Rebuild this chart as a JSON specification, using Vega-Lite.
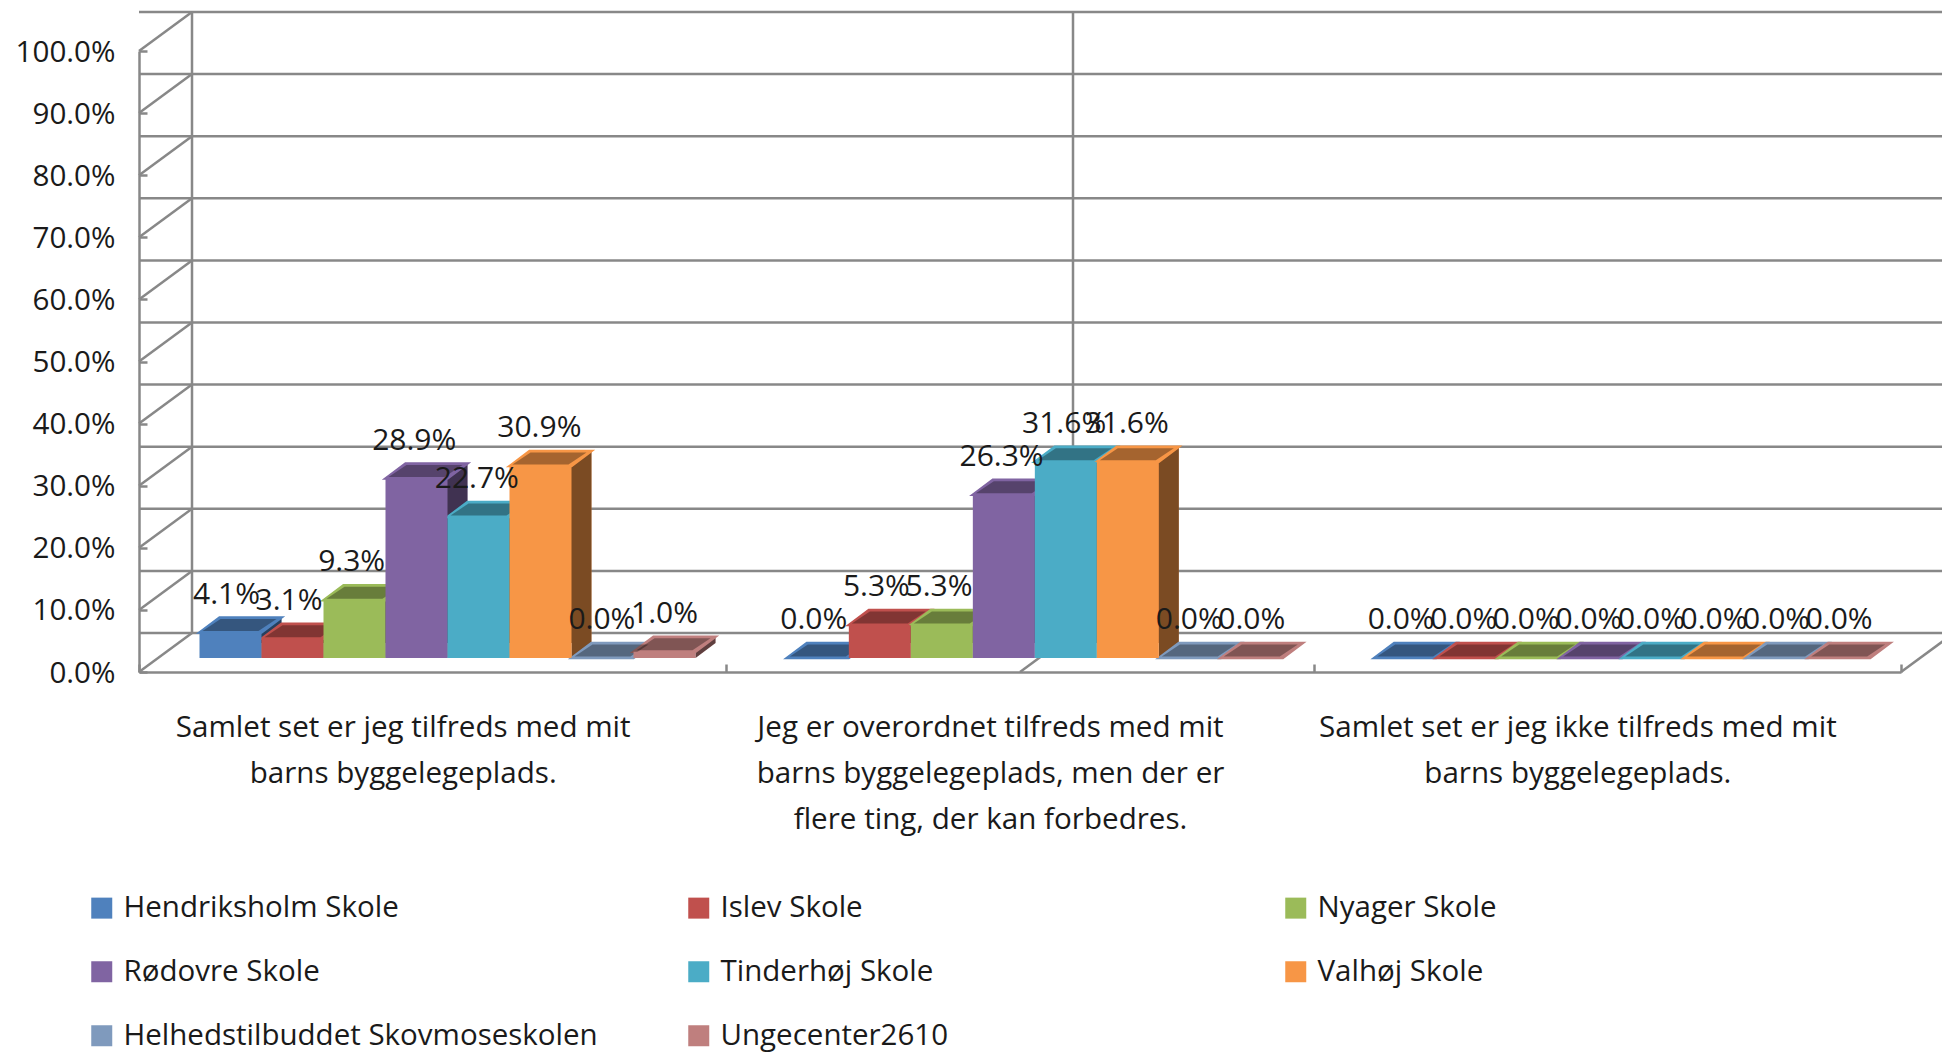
{
"$schema":"https://vega.github.io/schema/vega-lite/v6.json",
"autosize":{"type":"none"},
"padding":{"left":139,"top":51,"right":41,"bottom":380},
"width":1762,"height":621,
"background":"white",
"config":{"view":{"stroke":null},"range":{"category":["#4F81BD","#C0504D","#9BBB59","#8064A2","#4BACC6","#F79646","#7F9ABD","#BF7F7E"]},
"axis":{"labelFont":"Open Sans","labelFontSize":29.6,"labelColor":"#1a1a1a","domainColor":"#888888","domainWidth":2.5,"tickColor":"#888888","tickWidth":2.5,"grid":false,"title":null}},
"datasets":{
"ticks":[{"t":0},{"t":0.1},{"t":0.2},{"t":0.3},{"t":0.4},{"t":0.5},{"t":0.6},{"t":0.7},{"t":0.8},{"t":0.9},{"t":1}],
"rows":[
{"q":"Samlet set er jeg tilfreds med mit\nbarns byggelegeplads.","school":"Hendriksholm Skole","v":0.041},
{"q":"Samlet set er jeg tilfreds med mit\nbarns byggelegeplads.","school":"Islev Skole","v":0.031},
{"q":"Samlet set er jeg tilfreds med mit\nbarns byggelegeplads.","school":"Nyager Skole","v":0.093},
{"q":"Samlet set er jeg tilfreds med mit\nbarns byggelegeplads.","school":"Rødovre Skole","v":0.289},
{"q":"Samlet set er jeg tilfreds med mit\nbarns byggelegeplads.","school":"Tinderhøj Skole","v":0.227},
{"q":"Samlet set er jeg tilfreds med mit\nbarns byggelegeplads.","school":"Valhøj Skole","v":0.309},
{"q":"Samlet set er jeg tilfreds med mit\nbarns byggelegeplads.","school":"Helhedstilbuddet Skovmoseskolen","v":0},
{"q":"Samlet set er jeg tilfreds med mit\nbarns byggelegeplads.","school":"Ungecenter2610","v":0.01},
{"q":"Jeg er overordnet tilfreds med mit\nbarns byggelegeplads, men der er\nflere ting, der kan forbedres.","school":"Hendriksholm Skole","v":0},
{"q":"Jeg er overordnet tilfreds med mit\nbarns byggelegeplads, men der er\nflere ting, der kan forbedres.","school":"Islev Skole","v":0.053},
{"q":"Jeg er overordnet tilfreds med mit\nbarns byggelegeplads, men der er\nflere ting, der kan forbedres.","school":"Nyager Skole","v":0.053},
{"q":"Jeg er overordnet tilfreds med mit\nbarns byggelegeplads, men der er\nflere ting, der kan forbedres.","school":"Rødovre Skole","v":0.263},
{"q":"Jeg er overordnet tilfreds med mit\nbarns byggelegeplads, men der er\nflere ting, der kan forbedres.","school":"Tinderhøj Skole","v":0.316},
{"q":"Jeg er overordnet tilfreds med mit\nbarns byggelegeplads, men der er\nflere ting, der kan forbedres.","school":"Valhøj Skole","v":0.316},
{"q":"Jeg er overordnet tilfreds med mit\nbarns byggelegeplads, men der er\nflere ting, der kan forbedres.","school":"Helhedstilbuddet Skovmoseskolen","v":0},
{"q":"Jeg er overordnet tilfreds med mit\nbarns byggelegeplads, men der er\nflere ting, der kan forbedres.","school":"Ungecenter2610","v":0},
{"q":"Samlet set er jeg ikke tilfreds med mit\nbarns byggelegeplads.","school":"Hendriksholm Skole","v":0},
{"q":"Samlet set er jeg ikke tilfreds med mit\nbarns byggelegeplads.","school":"Islev Skole","v":0},
{"q":"Samlet set er jeg ikke tilfreds med mit\nbarns byggelegeplads.","school":"Nyager Skole","v":0},
{"q":"Samlet set er jeg ikke tilfreds med mit\nbarns byggelegeplads.","school":"Rødovre Skole","v":0},
{"q":"Samlet set er jeg ikke tilfreds med mit\nbarns byggelegeplads.","school":"Tinderhøj Skole","v":0},
{"q":"Samlet set er jeg ikke tilfreds med mit\nbarns byggelegeplads.","school":"Valhøj Skole","v":0},
{"q":"Samlet set er jeg ikke tilfreds med mit\nbarns byggelegeplads.","school":"Helhedstilbuddet Skovmoseskolen","v":0},
{"q":"Samlet set er jeg ikke tilfreds med mit\nbarns byggelegeplads.","school":"Ungecenter2610","v":0}
]},
"data":{"name":"rows"},
"resolve":{"scale":{"xOffset":"independent"}},
"encoding":{
  "x":{"field":"q","type":"nominal","sort":null,
   "scale":{"domain":["Samlet set er jeg tilfreds med mit\nbarns byggelegeplads.","Jeg er overordnet tilfreds med mit\nbarns byggelegeplads, men der er\nflere ting, der kan forbedres.","Samlet set er jeg ikke tilfreds med mit\nbarns byggelegeplads."],"paddingInner":0,"paddingOuter":0},
   "axis":{"labelAngle":0,"labelExpr":"isValid(datum.value)?split(datum.value,'\\n'):''","labelLimit":700,"labelLineHeight":46,"labelPadding":49,"labelOffset":-30,"labelBaseline":"top","tickBand":"extent","tickSize":-8}},
  "y":{"field":"v","type":"quantitative","scale":{"domain":[0,1],"nice":false},
   "axis":{"values":[0,0.1,0.2,0.3,0.4,0.5,0.6,0.7,0.8,0.9,1],"format":".1%","labelPadding":32,"labelOffset":1,"tickSize":-8}}
},
"layer":[
{"data":{"name":"ticks"},"mark":{"type":"rule","color":"#888888","strokeWidth":2.5,"xOffset":53,"x2Offset":53,"yOffset":-39},
 "encoding":{"x":null,"y":{"field":"t","type":"quantitative"}}},
{"data":{"name":"ticks"},"mark":{"type":"point","shape":"M0 0L5.3 -3.9","size":400,"filled":false,"stroke":"#888888","strokeWidth":2.5,"opacity":1},
 "encoding":{"x":{"datum":"Samlet set er jeg tilfreds med mit\nbarns byggelegeplads.","type":"nominal","bandPosition":0},"y":{"field":"t","type":"quantitative"}}},
{"data":{"values":[{"t":0,"t2":1,"q":"Samlet set er jeg tilfreds med mit\nbarns byggelegeplads."}]},
 "mark":{"type":"rule","color":"#888888","strokeWidth":2.5,"xOffset":53,"yOffset":-39,"y2Offset":-39},
 "encoding":{"x":{"field":"q","type":"nominal","bandPosition":0},"y":{"field":"t","type":"quantitative"},"y2":{"field":"t2"}}},
{"data":{"values":[{"t":0,"t2":1,"q":"Jeg er overordnet tilfreds med mit\nbarns byggelegeplads, men der er\nflere ting, der kan forbedres."}]},
 "mark":{"type":"rule","color":"#888888","strokeWidth":2.5,"xOffset":53,"yOffset":-39,"y2Offset":-39},
 "encoding":{"x":{"field":"q","type":"nominal"},"y":{"field":"t","type":"quantitative"},"y2":{"field":"t2"}}},
{"data":{"values":[{"t":0,"q":"Jeg er overordnet tilfreds med mit\nbarns byggelegeplads, men der er\nflere ting, der kan forbedres."}]},
 "mark":{"type":"point","shape":"M0 0L5.3 -3.9","size":400,"filled":false,"stroke":"#888888","strokeWidth":2.5,"opacity":1},
 "encoding":{"x":{"field":"q","type":"nominal"},"y":{"field":"t","type":"quantitative"}}},
{"data":{"values":[{"t":0,"q":"Samlet set er jeg ikke tilfreds med mit\nbarns byggelegeplads."}]},
 "mark":{"type":"point","shape":"M0 0L5.3 -3.9","size":400,"filled":false,"stroke":"#888888","strokeWidth":2.5,"opacity":1},
 "encoding":{"x":{"field":"q","type":"nominal","bandPosition":1},"y":{"field":"t","type":"quantitative"}}},
 {"mark":{"type":"bar","yOffset":-29,"y2Offset":-29},
  "encoding":{"xOffset":{"field":"school","type":"nominal","sort":null,"scale":{"domain":["Hendriksholm Skole","Islev Skole","Nyager Skole","Rødovre Skole","Tinderhøj Skole","Valhøj Skole","Helhedstilbuddet Skovmoseskolen","Ungecenter2610"],"paddingInner":0,"paddingOuter":0,"range":[80.5,576.5]}},
  "fill":{"field":"school","type":"nominal","sort":null,"scale":{"domain":["Hendriksholm Skole","Islev Skole","Nyager Skole","Rødovre Skole","Tinderhøj Skole","Valhøj Skole","Helhedstilbuddet Skovmoseskolen","Ungecenter2610"]},"title":null,
    "legend":{"orient":"none","legendX":-52,"legendY":842,"columns":3,"direction":"horizontal","gridAlign":"all","symbolType":"square","symbolSize":441,"symbolStrokeWidth":0,"labelFont":"Open Sans","labelFontSize":29.5,"labelColor":"#1a1a1a","labelLimit":700,"labelOffset":7,"rowPadding":33,"columnPadding":86}}}},
 {"transform":[{"filter":"datum.v>0"}],"mark":{"type":"point","shape":"M3.1 0L5.1 -1.5L3.1 -1.5Z","size":400,"filled":true,"opacity":1,"yOffset":-14},
  "encoding":{"xOffset":{"field":"school","type":"nominal","sort":null,"scale":{"type":"point","domain":["Hendriksholm Skole","Islev Skole","Nyager Skole","Rødovre Skole","Tinderhøj Skole","Valhøj Skole","Helhedstilbuddet Skovmoseskolen","Ungecenter2610"],"padding":0,"range":[91.5,525.5]}},"y":{"datum":0,"type":"quantitative"},"fill":{"field":"school","type":"nominal","sort":null}}},
 {"mark":{"type":"bar","fill":"black","fillOpacity":0.5,"yOffset":-29,"y2Offset":-29},
  "encoding":{"xOffset":{"field":"school","type":"nominal","sort":null,"scale":{"domain":["Hendriksholm Skole","Islev Skole","Nyager Skole","Rødovre Skole","Tinderhøj Skole","Valhøj Skole","Helhedstilbuddet Skovmoseskolen","Ungecenter2610"],"paddingInner":0,"paddingOuter":0,"range":[80.5,576.5]}}}},
 {"transform":[{"filter":"datum.v>0"}],"mark":{"type":"point","shape":"M3.1 0L5.1 -1.5L3.1 -1.5Z","size":400,"filled":true,"fill":"black","opacity":0.5,"yOffset":-14},
  "encoding":{"xOffset":{"field":"school","type":"nominal","sort":null,"scale":{"type":"point","domain":["Hendriksholm Skole","Islev Skole","Nyager Skole","Rødovre Skole","Tinderhøj Skole","Valhøj Skole","Helhedstilbuddet Skovmoseskolen","Ungecenter2610"],"padding":0,"range":[91.5,525.5]}},"y":{"datum":0,"type":"quantitative"}}},
 {"mark":{"type":"point","shape":"M-3.1 0L3.1 0L5.1 -1.5L-1.1 -1.5Z","size":400,"filled":true,"opacity":1,"strokeWidth":2.5,"yOffset":-14},
  "encoding":{"xOffset":{"field":"school","type":"nominal","sort":null,"scale":{"type":"point","domain":["Hendriksholm Skole","Islev Skole","Nyager Skole","Rødovre Skole","Tinderhøj Skole","Valhøj Skole","Helhedstilbuddet Skovmoseskolen","Ungecenter2610"],"padding":0,"range":[91.5,525.5]}},"fill":{"field":"school","type":"nominal","sort":null},"stroke":{"field":"school","type":"nominal","sort":null,"scale":{"domain":["Hendriksholm Skole","Islev Skole","Nyager Skole","Rødovre Skole","Tinderhøj Skole","Valhøj Skole","Helhedstilbuddet Skovmoseskolen","Ungecenter2610"]},"legend":null}}},
 {"mark":{"type":"point","shape":"M-2.8 -0.15L2.8 -0.15L4.6 -1.35L-1.0 -1.35Z","size":400,"filled":true,"fill":"black","opacity":0.33,"strokeWidth":0,"yOffset":-14},
  "encoding":{"xOffset":{"field":"school","type":"nominal","sort":null,"scale":{"type":"point","domain":["Hendriksholm Skole","Islev Skole","Nyager Skole","Rødovre Skole","Tinderhøj Skole","Valhøj Skole","Helhedstilbuddet Skovmoseskolen","Ungecenter2610"],"padding":0,"range":[91.5,525.5]}}}},
 {"mark":{"type":"bar","yOffset":-14,"y2Offset":-14},
  "encoding":{"xOffset":{"field":"school","type":"nominal","sort":null,"scale":{"domain":["Hendriksholm Skole","Islev Skole","Nyager Skole","Rødovre Skole","Tinderhøj Skole","Valhøj Skole","Helhedstilbuddet Skovmoseskolen","Ungecenter2610"],"paddingInner":0,"paddingOuter":0,"range":[60.5,556.5]}},"fill":{"field":"school","type":"nominal","sort":null}}},
 {"mark":{"type":"text","font":"Open Sans","fontSize":30,"color":"#1a1a1a","baseline":"middle","yOffset":-52},
  "encoding":{"xOffset":{"field":"school","type":"nominal","sort":null,"scale":{"type":"point","domain":["Hendriksholm Skole","Islev Skole","Nyager Skole","Rødovre Skole","Tinderhøj Skole","Valhøj Skole","Helhedstilbuddet Skovmoseskolen","Ungecenter2610"],"padding":0,"range":[87.5,525.5]}},"text":{"field":"v","type":"quantitative","format":".1%"}}}
]
}
